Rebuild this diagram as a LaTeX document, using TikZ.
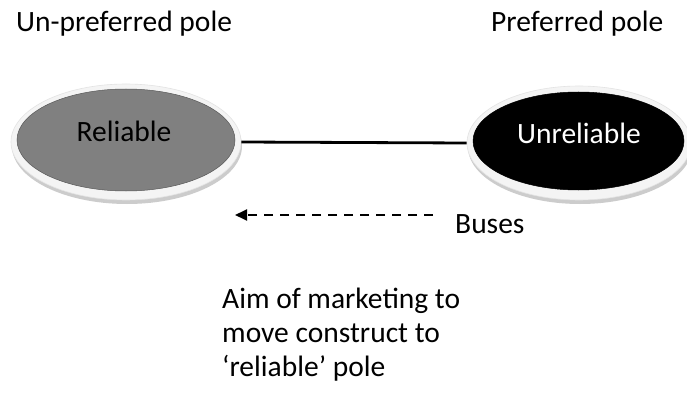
\documentclass[tikz,border=0pt]{standalone}
\usepackage{fontspec}
\setmainfont{Carlito}
\usetikzlibrary{shapes.geometric,arrows.meta}
\definecolor{midgrey}{RGB}{128,128,128}
\begin{document}
\begin{tikzpicture}[x=1pt,y=-1pt,
  txt/.style={inner sep=0pt,font=\fontsize{29.5}{34}\selectfont,anchor=base west},
  ctxt/.style={inner sep=0pt,font=\fontsize{29.5}{34}\selectfont},
  ring/.style={ellipse,inner sep=0pt,fill=gray!9,draw=gray!22,line width=0.6pt},
  shadow/.style={ellipse,inner sep=0pt,fill=gray!40},
  pole/.style={ellipse,inner sep=0pt,draw=gray!70!black,line width=0.5pt},
  conn/.style={line width=2.8pt},
  dashedarrow/.style={line width=1.8pt,dash pattern=on 9.5pt off 6.5pt,-{Triangle[length=12pt,width=11pt]}}]
\useasboundingbox (0,0) rectangle (687,398);
\fill[white] (0,0) rectangle (687,398);
% left pole
\node[shadow,minimum width=230pt,minimum height=116pt] (relshadow) at (127,146) {};
\node[ring,minimum width=230pt,minimum height=116pt] (relring) at (126,142) {};
\node[pole,fill=midgrey,minimum width=218pt,minimum height=102pt] (rel) at (126,140) {};
\node[ctxt] (reltext) at (124,131) {Reliable};
% right pole
\node[shadow,minimum width=224pt,minimum height=114pt] (unrshadow) at (580,147) {};
\node[ring,minimum width=224pt,minimum height=114pt] (unrring) at (579,143) {};
\node[pole,fill=black,draw=black,minimum width=211pt,minimum height=98pt] (unr) at (578.5,141) {};
\node[ctxt,text=white] (unrtext) at (579,133) {Unreliable};
% connector
\draw[conn] (relring.east) -- (unrring.west);
% labels
\node[txt] (unpref) at (16,32) {Un-preferred pole};
\node[txt] (pref) at (491,32) {Preferred pole};
\node[txt] (buses) at (455,233) {Buses};
\coordinate (arrowstart) at (433,215);
\coordinate (arrowend) at (235,215);
\draw[dashedarrow] (arrowstart) -- (arrowend);
\node[txt] (aim1) at (222,308) {Aim of marketing to};
\node[txt] (aim2) at (222,342) {move construct to};
\node[txt] (aim3) at (222,376) {‘reliable’ pole};
\end{tikzpicture}
\end{document}
